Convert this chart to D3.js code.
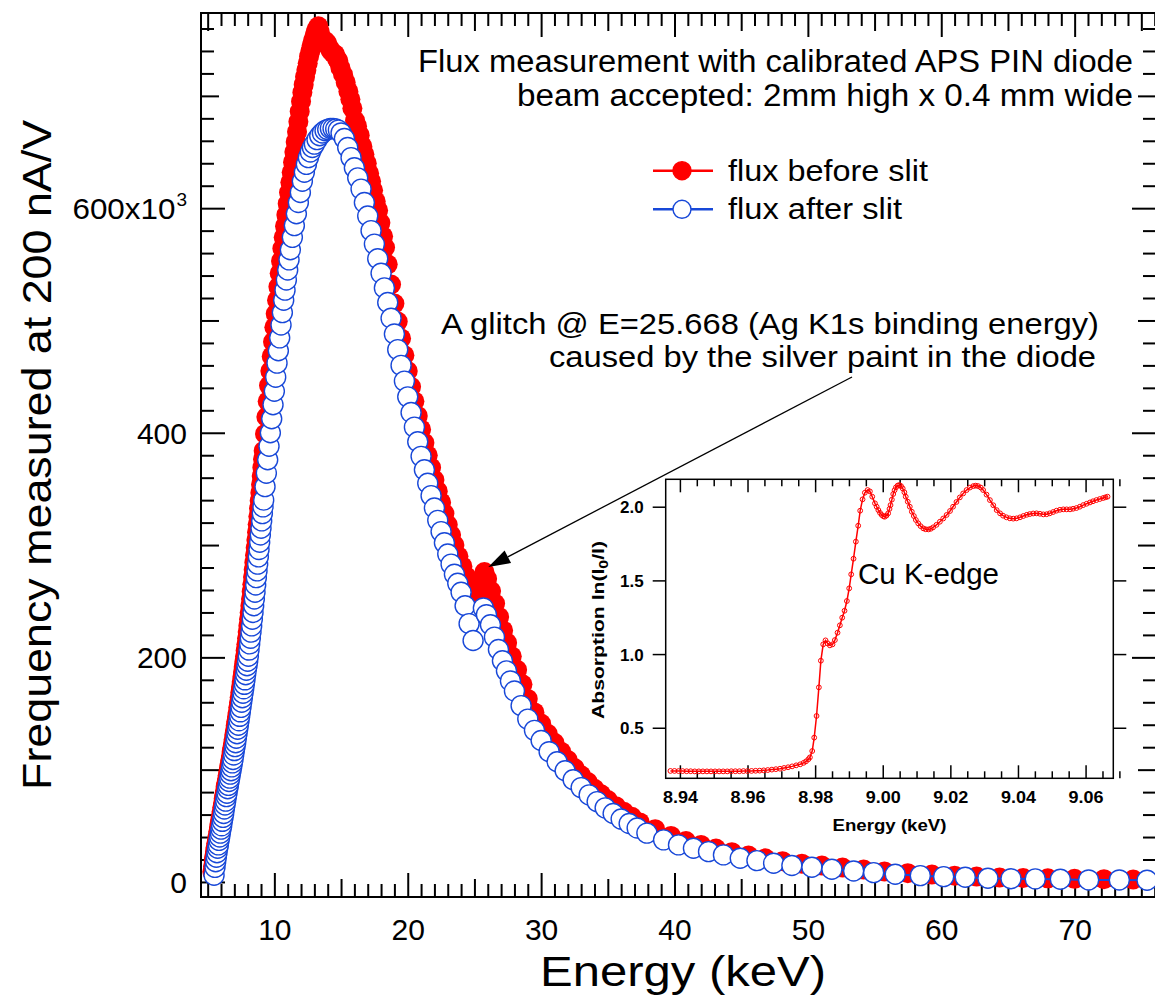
<!DOCTYPE html>
<html>
<head>
<meta charset="utf-8">
<script src="https://cdn.jsdelivr.net/npm/d3@7"></script>
<style>
  html, body { margin: 0; padding: 0; background: #fff; }
  svg { display: block; }
</style>
</head>
<body>
<svg id="chart" width="1155" height="999"></svg>
<script>
// ---- Flux measured before the slit (keV, counts x10^3) ----
const beforeEnergy = [
  5.35,5.40,5.45,5.50,5.55,5.60,5.65,5.70,5.75,5.80,5.85,5.90,5.95,6.00,6.05,6.10,6.15,6.20,6.25,6.30,
  6.35,6.40,6.45,6.50,6.55,6.60,6.65,6.70,6.75,6.80,6.85,6.90,6.95,7.00,7.05,7.10,7.15,7.20,7.25,7.30,
  7.35,7.40,7.45,7.50,7.55,7.60,7.65,7.70,7.75,7.80,7.85,7.90,7.95,8.00,8.05,8.10,8.15,8.20,8.25,8.30,
  8.35,8.40,8.45,8.50,8.55,8.60,8.65,8.70,8.75,8.80,8.85,8.90,8.95,9.00,9.05,9.10,9.15,9.20,9.30,9.40,
  9.50,9.60,9.70,9.80,9.90,10.00,10.10,10.20,10.30,10.40,10.50,10.60,10.70,10.80,10.90,11.00,11.10,11.20,11.30,11.40,
  11.50,11.60,11.70,11.80,11.90,12.00,12.10,12.20,12.30,12.40,12.50,12.60,12.70,12.80,12.90,13.00,13.10,13.20,13.30,13.40,
  13.50,13.60,13.70,13.80,13.95,14.10,14.25,14.40,14.55,14.70,14.80,14.95,15.15,15.35,15.55,15.70,15.85,16.05,16.20,16.40,
  16.60,16.75,16.93,17.10,17.25,17.40,17.60,17.78,17.95,18.15,18.30,18.50,18.75,19.00,19.25,19.50,19.75,20.00,20.25,20.50,
  20.75,21.00,21.25,21.50,21.75,22.00,22.25,22.50,22.75,23.00,23.25,23.50,23.80,24.10,24.40,24.70,25.00,25.30,25.55,25.75,
  25.95,26.25,26.55,26.85,27.15,27.45,27.80,28.20,28.60,29.00,29.50,30.00,30.50,31.00,31.50,32.00,32.50,33.00,33.50,34.00,
  34.50,35.00,35.60,36.20,36.80,37.40,38.55,39.74,40.86,41.99,43.11,44.30,45.55,46.80,48.10,49.55,51.05,52.60,54.18,55.74,
  57.49,59.30,61.00,62.65,64.37,66.14,67.99,69.99,72.20,74.39
];
const beforeFlux = [
  9,14,19,23,27,31,34.5,38,41.5,45,48.5,52,55.5,59,63,66.5,70,74,77.5,81,
  85,88,91.5,95,98,101.5,105,108.5,112,116,119.5,123,127,131,135,139,143,147,151,155.5,
  160,164.5,169,173.5,178,182.5,187,191.5,196,201,206,211.5,217,222.5,228,234,240,246,252,258.5,
  265,271.5,278,284.5,291,297.5,304.5,311.5,318.5,325.5,332.5,339.5,346.5,354,361.5,369,376.5,384,399,414,
  428,442,455,468,481,494,506,518,530,542,553,564,574,584,594,604,614,623,632,641,
  650,659,668,677,686,695,703,710,717,723,729,735,740,745,749,753,757,760,762,757,
  751,748,748,749,747,743,740,738,737,733,731,725,719,712,704,697,689,678,673,665,
  655,648,640,631,624,616,606,598,587,575,565,550,532,515,499,484,469,455,441,428,
  415,403,391,380,369,358,348,338,328,318,309,300,290,281,272,264,257,251,268,276,
  270,259,248,236,224,213,201,189,176,163,151,141,132,124,116,108.5,101.5,95,89,83,
  78,73,67.5,62.5,58,53,47,41,36.5,33,29.8,26.5,23.5,21,18.5,16.3,14.6,12.8,11,9.4,
  7.8,6.6,5.6,4.8,4.0,3.5,3.2,2.8,2.5,2.2
];

// ---- Flux measured after the slit (keV, counts x10^3) ----
const afterEnergy = [
  5.48,5.55,5.60,5.65,5.70,5.75,5.80,5.85,5.90,5.95,6.00,6.05,6.10,6.15,6.20,6.25,6.30,6.35,6.40,6.45,
  6.50,6.55,6.60,6.65,6.70,6.75,6.80,6.85,6.90,6.95,7.00,7.05,7.10,7.15,7.20,7.25,7.30,7.35,7.40,7.45,
  7.50,7.55,7.60,7.65,7.70,7.75,7.80,7.85,7.90,7.95,8.00,8.05,8.10,8.15,8.20,8.25,8.30,8.35,8.40,8.45,
  8.50,8.55,8.60,8.65,8.70,8.75,8.80,8.85,8.90,8.95,9.00,9.05,9.10,9.15,9.20,9.30,9.40,9.50,9.60,9.70,
  9.80,9.90,10.00,10.10,10.20,10.30,10.40,10.50,10.60,10.70,10.80,10.90,11.00,11.10,11.20,11.35,11.50,11.65,11.80,11.95,
  12.10,12.25,12.40,12.55,12.70,12.85,13.00,13.20,13.40,13.60,13.80,14.00,14.20,14.40,14.60,14.80,15.00,15.25,15.50,15.75,
  16.00,16.25,16.50,16.75,17.00,17.25,17.50,17.75,18.00,18.25,18.50,18.75,19.00,19.25,19.50,19.75,20.00,20.25,20.50,20.75,
  21.00,21.25,21.50,21.75,22.00,22.25,22.50,22.75,23.00,23.25,23.50,23.75,24.00,24.30,24.60,24.90,25.67,25.90,
  26.20,26.50,26.80,27.10,27.40,27.70,28.00,28.50,29.00,29.50,30.00,30.60,31.20,31.80,32.40,33.00,33.60,34.20,34.80,35.40,
  36.00,36.60,37.20,37.93,39.18,40.30,41.42,42.55,43.67,44.93,46.18,47.43,48.80,50.30,51.80,53.43,54.93,56.55,58.43,60.18,
  61.80,63.50,65.23,67.05,68.93,71.05,73.35,75.43
];
const afterFlux = [
  6,13,18,22,26,30,33,37,40,43.5,47,50,54,57.5,61,65,68.5,72,76,79,
  83,86,89.5,92.5,96,99,102.5,106,109,113,117,120.5,124,128,132,136,139.5,143.5,147.5,151.5,
  155.5,160,164,168,172,176,180,184.5,188.5,192.5,196.5,201,206.5,212,217,222.5,228,234,240,246,
  252,258,264.5,271,277,283,289.5,296,302.5,309,315,321.5,328,334,340,352,364,376,388,400,
  412.5,425,437,449.5,462,473,484.5,496,507,518,527,536,545,554,563,574,584.5,595,605,614,
  624,632,639,645,650,654,657,661,664.5,667,669,670,671,671,670.5,669.5,667,662,654,645,
  636,627,617,605,593,580,568,555,542,529,516,502,488,474,460,446,432,418,405,392,
  379,367,355,344,333,322,312,302,292,283,274,266,258,246,230,215,244,238,
  229,218,207,197,188,179,170,157,145,135,126,116,107,99,91,84,77.5,71.5,66,61,
  56,52,48,43.5,37.5,33,30,27,24.1,21.1,19,16.7,14.6,13.1,11.3,9.8,8.3,6.9,5.6,4.7,
  4.2,3.3,2.9,2.7,2.4,1.8,1.8,1.5
];

// ---- Cu K-edge absorption scan (keV, ln(I0/I)) ----
const edgeEnergy = [
  8.9372,8.9384,8.9396,8.9408,8.9420,8.9432,8.9444,8.9456,8.9468,8.9480,8.9492,8.9504,8.9516,8.9528,8.9540,8.9552,
  8.9564,8.9576,8.9588,8.9600,8.9612,8.9624,8.9636,8.9648,8.9660,8.9672,8.9684,8.9696,8.9708,8.9720,8.9732,8.9744,
  8.9756,8.9766,8.9773,8.9780,8.97845,8.97914,8.97973,8.98042,8.98111,8.98170,8.98239,8.98308,8.98367,8.98437,8.98515,8.98584,
  8.98663,8.98732,8.98801,8.98870,8.98939,8.99008,8.99067,8.99136,8.99205,8.99274,8.99333,8.99403,8.99472,8.99551,8.99620,
  8.9969,8.9977,8.9982,8.9987,8.9992,8.9997,9.0002,9.0006,9.0011,9.0016,9.0020,9.0023,9.0027,9.0031,9.0035,9.0039,
  9.0044,9.0049,9.0054,9.0059,9.0064,9.0068,9.0074,9.0080,9.0086,9.0092,9.0098,9.0105,9.0112,9.0120,9.0127,9.0135,
  9.0142,9.0149,9.0159,9.0169,9.0179,9.0189,9.0199,9.0208,9.0218,9.0228,9.0238,9.0248,9.0258,9.0268,9.0275,9.0282,
  9.0290,9.0297,9.0307,9.0317,9.0327,9.0337,9.0347,9.0356,9.0366,9.0376,9.0386,9.0396,9.0406,9.0416,9.0426,9.0435,
  9.0445,9.0455,9.0465,9.0475,9.0485,9.0494,9.0504,9.0514,9.0524,9.0534,9.0544,9.0554,9.0563,9.0573,9.0583,9.0593,
  9.0603,9.0613,9.0622,9.0632,9.0642,9.0652,9.0659,9.0665
];
const edgeAbsorption = [
  0.207,0.207,0.206,0.206,0.205,0.205,0.204,0.204,0.204,0.204,0.204,0.204,0.204,0.204,0.204,0.205,
  0.205,0.205,0.206,0.206,0.207,0.208,0.209,0.211,0.213,0.216,0.219,0.222,0.227,0.232,0.238,0.245,
  0.252,0.262,0.272,0.286,0.299,0.342,0.433,0.580,0.774,0.955,1.066,1.093,1.073,1.059,1.066,1.095,
  1.145,1.195,1.247,1.294,1.360,1.446,1.541,1.647,1.763,1.871,1.973,2.050,2.095,2.113,2.104,
  2.068,2.023,2.000,1.977,1.958,1.944,1.935,1.932,1.940,1.955,1.985,2.011,2.048,2.086,2.112,2.131,
  2.143,2.147,2.140,2.124,2.098,2.068,2.034,2.000,1.966,1.937,1.910,1.887,1.868,1.853,1.847,1.846,
  1.850,1.860,1.877,1.898,1.920,1.944,1.971,2.000,2.032,2.063,2.090,2.113,2.130,2.140,2.143,2.140,
  2.130,2.113,2.082,2.045,2.010,1.977,1.955,1.939,1.928,1.921,1.919,1.921,1.928,1.937,1.945,1.950,
  1.954,1.955,1.952,1.948,1.949,1.955,1.964,1.973,1.979,1.982,1.982,1.982,1.986,1.991,2.000,2.011,
  2.020,2.029,2.037,2.045,2.052,2.059,2.064,2.068
];

// ---- Tick labels ----
const energyTicks = [10, 20, 30, 40, 50, 60, 70];
const fluxTicks = [0, 200, 400, 600];
const edgeEnergyTicks = [8.94, 8.96, 8.98, 9.00, 9.02, 9.04, 9.06];
const edgeAbsTicks = [0.5, 1.0, 1.5, 2.0];

// Silver K-edge glitch marked by the arrow
const glitchEnergy = 25.668;
const glitchFlux = 276;

const FONT = "'Liberation Sans', Arial, Helvetica, sans-serif";
const RED = "#ff0000";
const BLUE = "#1848d8";

const svg = d3.select("#chart");

// ---------- main plot ----------
const M = { left: 201, right: 1156, top: 13, bottom: 897 };
const x = d3.scaleLinear().domain([4.5, 76.1]).range([M.left, M.right]);
const y = d3.scaleLinear().domain([-13.4, 773.8]).range([M.bottom, M.top]);

svg.append("clipPath").attr("id", "plotClip")
  .append("rect").attr("x", M.left).attr("y", M.top)
  .attr("width", M.right - M.left).attr("height", M.bottom - M.top);

function ticks(axis, transform, labels) {
  const g = svg.append("g").attr("transform", transform).call(axis);
  g.select(".domain").remove();
  g.selectAll(".tick line").attr("stroke", "#000").attr("stroke-width", 2);
  if (!labels) g.selectAll(".tick text").remove();
  return g;
}

const xMinor = d3.range(5, 77).filter(v => v % 5 !== 0);
const xMid = d3.range(5, 77, 10);
const yMinor = d3.range(0, 775, 20).filter(v => v % 100 !== 0);
const yMid = [100, 300, 500, 700];

// bottom & top
ticks(d3.axisBottom(x).tickValues(xMinor).tickSize(-13), `translate(0,${M.bottom})`);
ticks(d3.axisBottom(x).tickValues(xMid).tickSize(-18), `translate(0,${M.bottom})`);
const xb = ticks(d3.axisBottom(x).tickValues(energyTicks).tickSize(-24).tickFormat(d3.format("d")),
  `translate(0,${M.bottom})`, true);
xb.selectAll(".tick text").attr("y", 43).attr("dy", 0)
  .attr("font-family", FONT).attr("font-size", 30).attr("fill", "#000");
ticks(d3.axisTop(x).tickValues(xMinor).tickSize(-13), `translate(0,${M.top})`);
ticks(d3.axisTop(x).tickValues(xMid).tickSize(-18), `translate(0,${M.top})`);
ticks(d3.axisTop(x).tickValues(energyTicks).tickSize(-24), `translate(0,${M.top})`);

// left & right
ticks(d3.axisLeft(y).tickValues(yMinor).tickSize(-13), `translate(${M.left},0)`);
ticks(d3.axisLeft(y).tickValues(yMid).tickSize(-18), `translate(${M.left},0)`);
const yl = ticks(d3.axisLeft(y).tickValues(fluxTicks).tickSize(-24).tickFormat(d3.format("d")),
  `translate(${M.left},0)`, true);
yl.selectAll(".tick text").attr("x", -14).attr("dy", 10.5)
  .attr("font-family", FONT).attr("font-size", 30).attr("fill", "#000");
yl.selectAll(".tick text").filter(d => d === 600).each(function (d) {
  const t = d3.select(this).text(null);
  t.append("tspan").attr("textLength", 103).attr("lengthAdjust", "spacingAndGlyphs").text(d + "x10");
  t.append("tspan").attr("dy", -13).attr("dx", 1).attr("font-size", 19).text("3");
});
ticks(d3.axisRight(y).tickValues(yMinor).tickSize(-13), `translate(${M.right},0)`);
ticks(d3.axisRight(y).tickValues(yMid).tickSize(-18), `translate(${M.right},0)`);
ticks(d3.axisRight(y).tickValues(fluxTicks).tickSize(-24), `translate(${M.right},0)`);

// frame
svg.append("rect").attr("x", M.left).attr("y", M.top)
  .attr("width", M.right - M.left).attr("height", M.bottom - M.top)
  .attr("fill", "none").attr("stroke", "#000").attr("stroke-width", 2);

// series
const before = beforeEnergy.map((e, i) => [e, beforeFlux[i]]);
const after = afterEnergy.map((e, i) => [e, afterFlux[i]]);
const line = d3.line().x(d => x(d[0])).y(d => y(d[1]));
const plot = svg.append("g").attr("clip-path", "url(#plotClip)");

plot.append("path").datum(before).attr("d", line)
  .attr("fill", "none").attr("stroke", RED).attr("stroke-width", 2);
plot.append("g").selectAll("circle").data(before).join("circle")
  .attr("cx", d => x(d[0])).attr("cy", d => y(d[1])).attr("r", 10).attr("fill", RED);

plot.append("path").datum(after).attr("d", line)
  .attr("fill", "none").attr("stroke", BLUE).attr("stroke-width", 2);
plot.append("g").selectAll("circle").data(after).join("circle")
  .attr("cx", d => x(d[0])).attr("cy", d => y(d[1])).attr("r", 10)
  .attr("fill", "#fff").attr("stroke", BLUE).attr("stroke-width", 1.4);

// text helper
function label(parent, o) {
  const t = parent.append("text")
    .attr("font-family", FONT).attr("font-size", o.size).attr("fill", "#000")
    .attr("font-weight", o.weight || "normal")
    .attr("text-anchor", o.anchor || "start");
  if (o.rotate) {
    t.attr("transform", `translate(${o.x},${o.y}) rotate(${o.rotate})`);
  } else {
    t.attr("x", o.x).attr("y", o.y);
  }
  if (o.len) t.attr("textLength", o.len).attr("lengthAdjust", "spacingAndGlyphs");
  if (o.text) t.text(o.text);
  return t;
}

// axis titles
label(svg, { x: 683, y: 986, size: 42, anchor: "middle", text: "Energy (keV)", len: 286 });
label(svg, { x: 51, y: 455, size: 40, anchor: "middle", rotate: -90,
  text: "Frequency measured at 200 nA/V", len: 670 });

// notes
label(svg, { x: 1133, y: 72, size: 31, anchor: "end",
  text: "Flux measurement with calibrated APS PIN diode", len: 715 });
label(svg, { x: 1133, y: 106, size: 31, anchor: "end",
  text: "beam accepted: 2mm high x 0.4 mm wide", len: 616 });
label(svg, { x: 1099, y: 334, size: 30, anchor: "end",
  text: "A glitch @ E=25.668 (Ag K1s binding energy)", len: 658 });
label(svg, { x: 1096, y: 367, size: 30, anchor: "end",
  text: "caused by the silver paint in the diode", len: 547 });

// arrow to the glitch
const tip = [x(glitchEnergy) + 5, y(glitchFlux) - 5];
const tail = [852, 377];
const ang = Math.atan2(tip[1] - tail[1], tip[0] - tail[0]);
const headLen = 22, headW = 7;
const base = [tip[0] - headLen * Math.cos(ang), tip[1] - headLen * Math.sin(ang)];
svg.append("line").attr("x1", tail[0]).attr("y1", tail[1])
  .attr("x2", base[0]).attr("y2", base[1]).attr("stroke", "#000").attr("stroke-width", 1.3);
svg.append("path").attr("d", d3.line()([
  tip,
  [base[0] + headW * Math.sin(ang), base[1] - headW * Math.cos(ang)],
  [base[0] - headW * Math.sin(ang), base[1] + headW * Math.cos(ang)]
]) + "Z").attr("fill", "#000");

// legend
const legend = [
  { name: "flux before slit", color: RED, fill: RED },
  { name: "flux after slit", color: BLUE, fill: "#fff" }
];
const lg = svg.append("g");
legend.forEach((s, i) => {
  const cy = 170.7 + i * 38.6;
  lg.append("line").attr("x1", 653).attr("x2", 713).attr("y1", cy).attr("y2", cy)
    .attr("stroke", s.color).attr("stroke-width", 2.5);
  lg.append("circle").attr("cx", 682).attr("cy", cy).attr("r", 9)
    .attr("fill", s.fill).attr("stroke", s.color).attr("stroke-width", 1.4);
  label(lg, { x: 728, y: cy + 10, size: 30, text: s.name, len: i === 0 ? 200 : 174 });
});

// ---------- inset: Cu K-edge ----------
const I = { left: 665.7, right: 1113.3, top: 479.3, bottom: 778.3 };
const ix = d3.scaleLinear().domain([8.9358, 9.0682]).range([I.left, I.right]);
const iy = d3.scaleLinear().domain([0.157, 2.186]).range([I.bottom, I.top]);
const inset = svg.append("g");

function iticks(axis, transform, keepLabels) {
  const g = inset.append("g").attr("transform", transform).call(axis);
  g.select(".domain").remove();
  g.selectAll(".tick line").attr("stroke", "#000").attr("stroke-width", 1.5);
  if (!keepLabels) g.selectAll(".tick text").remove();
  g.selectAll(".tick text").attr("font-family", FONT).attr("font-weight", "bold")
    .attr("font-size", 17).attr("fill", "#000");
  return g;
}
const ixMinor = d3.range(0, 27).map(i => +(8.94 + i * 0.005).toFixed(3))
  .filter(v => !edgeEnergyTicks.some(t => Math.abs(t - v) < 1e-6));
iticks(d3.axisBottom(ix).tickValues(ixMinor).tickSize(-7), `translate(0,${I.bottom})`);
const ixb = iticks(d3.axisBottom(ix).tickValues(edgeEnergyTicks).tickSize(-13).tickFormat(d3.format(".2f")),
  `translate(0,${I.bottom})`, true);
ixb.selectAll(".tick text").attr("y", 25).attr("dy", 0)
  .attr("textLength", 35).attr("lengthAdjust", "spacingAndGlyphs");
iticks(d3.axisTop(ix).tickValues(ixMinor).tickSize(-7), `translate(0,${I.top})`);
iticks(d3.axisTop(ix).tickValues(edgeEnergyTicks).tickSize(-13), `translate(0,${I.top})`);
const iyl = iticks(d3.axisLeft(iy).tickValues(edgeAbsTicks).tickSize(13).tickFormat(d3.format(".1f")),
  `translate(${I.left},0)`, true);
iyl.selectAll(".tick text").attr("x", -22).attr("dy", 6);
iticks(d3.axisRight(iy).tickValues(edgeAbsTicks).tickSize(13), `translate(${I.right},0)`);

inset.append("rect").attr("x", I.left).attr("y", I.top)
  .attr("width", I.right - I.left).attr("height", I.bottom - I.top)
  .attr("fill", "none").attr("stroke", "#000").attr("stroke-width", 1.5);

const edge = edgeEnergy.map((e, i) => [e, edgeAbsorption[i]]);
inset.append("path").datum(edge)
  .attr("d", d3.line().x(d => ix(d[0])).y(d => iy(d[1])))
  .attr("fill", "none").attr("stroke", RED).attr("stroke-width", 1.5);
inset.append("g").selectAll("circle").data(edge).join("circle")
  .attr("cx", d => ix(d[0])).attr("cy", d => iy(d[1])).attr("r", 2.4)
  .attr("fill", "none").attr("stroke", RED).attr("stroke-width", 1);

label(inset, { x: (I.left + I.right) / 2, y: 831, size: 17, weight: "bold", anchor: "middle",
  text: "Energy (keV)", len: 114 });
const ytl = label(inset, { x: 604, y: 630, size: 16, weight: "bold", anchor: "middle", rotate: -90, len: 178 });
ytl.append("tspan").text("Absorption ln(I");
ytl.append("tspan").attr("dy", 4).attr("font-size", 12).text("0");
ytl.append("tspan").attr("dy", -4).text("/I)");
label(inset, { x: 858, y: 584, size: 29, text: "Cu K-edge", len: 141 });
</script>
</body>
</html>
